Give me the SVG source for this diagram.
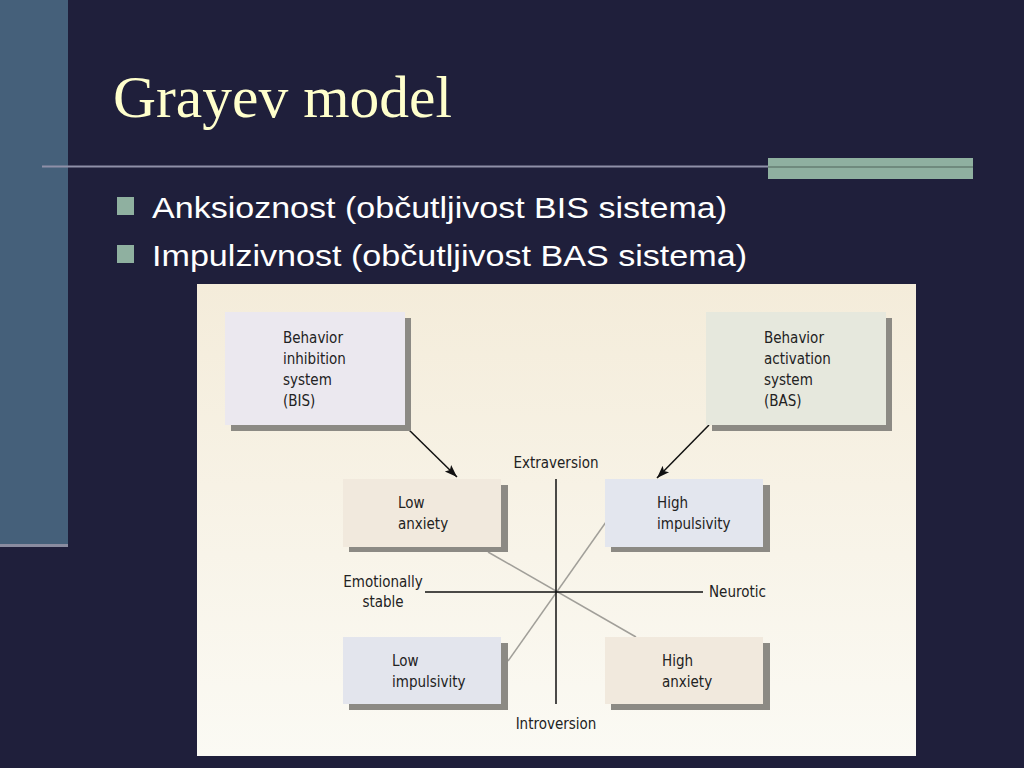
<svg xmlns="http://www.w3.org/2000/svg" width="1024" height="768" viewBox="0 0 1024 768">
<defs>
<linearGradient id="pg" x1="0" y1="0" x2="0" y2="1">
<stop offset="0" stop-color="#f4ecda"/>
<stop offset="1" stop-color="#fbfaf4"/>
</linearGradient>
<marker id="ah" viewBox="0 0 14 10" refX="14" refY="5" markerWidth="15" markerHeight="9" markerUnits="userSpaceOnUse" orient="auto">
<path d="M0,0 L14,5 L0,10 L3,5 Z" fill="#111"/>
</marker>
<style>
.t{font-family:"Liberation Sans Narrow","DejaVu Sans Condensed","Liberation Sans",sans-serif;font-size:15px;fill:#222}
.b{font-family:"Liberation Sans",Arial,sans-serif;font-size:30px;fill:#ffffff}
.sh{fill:#8c8a84}
.ax{stroke:#111;stroke-width:1.5;fill:none}
.dg{stroke:#a19f99;stroke-width:1.5;fill:none}
.ar{stroke:#111;stroke-width:1.5;fill:none}
</style>
</defs>
<rect width="1024" height="768" fill="#1f1f3b"/>
<rect x="0" y="0" width="68" height="545" fill="#45607a"/>
<rect x="0" y="544" width="68" height="3" fill="#8a8ca0"/>
<line x1="42" y1="166.5" x2="770" y2="166.5" stroke="#8f90a8" stroke-width="2"/>
<rect x="768" y="158" width="205" height="21" fill="#8fb0a0"/>
<line x1="768" y1="167" x2="973" y2="167" stroke="#6f8a7d" stroke-width="2"/>
<text x="113" y="117" font-family="'Liberation Serif','Times New Roman',serif" font-size="60" fill="#ffffcc" textLength="339" lengthAdjust="spacingAndGlyphs">Grayev model</text>
<rect x="117" y="197" width="17" height="18" fill="#8fb0a0"/>
<text class="b" x="152" y="218" textLength="575" lengthAdjust="spacingAndGlyphs">Anksioznost (občutljivost BIS sistema)</text>
<rect x="117" y="245" width="17" height="18" fill="#8fb0a0"/>
<text class="b" x="152" y="266" textLength="595" lengthAdjust="spacingAndGlyphs">Impulzivnost (občutljivost BAS sistema)</text>
<rect x="197" y="284" width="719" height="472" fill="url(#pg)"/>
<g id="connectors">
<line class="dg" x1="488" y1="552" x2="636" y2="637"/>
<line class="dg" x1="508" y1="661" x2="606" y2="522"/>
<line class="ax" x1="425" y1="592" x2="703" y2="592"/>
<line class="ax" x1="556" y1="479" x2="556" y2="704"/>
<line class="ar" x1="404" y1="425" x2="457" y2="477" marker-end="url(#ah)"/>
<line class="ar" x1="709" y1="425" x2="657" y2="478" marker-end="url(#ah)"/>
</g>
<g id="bis">
<rect class="sh" x="231" y="318" width="180" height="113"/>
<rect x="225" y="312" width="180" height="113" fill="#ebe8ef"/>
<text class="t" x="283" y="343">Behavior</text>
<text class="t" x="283" y="364">inhibition</text>
<text class="t" x="283" y="385">system</text>
<text class="t" x="283" y="406">(BIS)</text>
</g>
<g id="bas">
<rect class="sh" x="712" y="318" width="180" height="113"/>
<rect x="706" y="312" width="180" height="113" fill="#e6e8dd"/>
<text class="t" x="764" y="343">Behavior</text>
<text class="t" x="764" y="364">activation</text>
<text class="t" x="764" y="385">system</text>
<text class="t" x="764" y="406">(BAS)</text>
</g>
<g id="low-anxiety">
<rect class="sh" x="349" y="485" width="159" height="67"/>
<rect x="343" y="479" width="158" height="68" fill="#f1e9dd"/>
<text class="t" x="398" y="508">Low</text>
<text class="t" x="398" y="529">anxiety</text>
</g>
<g id="high-impulsivity">
<rect class="sh" x="611" y="485" width="159" height="67"/>
<rect x="605" y="479" width="158" height="68" fill="#e3e6ee"/>
<text class="t" x="657" y="508">High</text>
<text class="t" x="657" y="529">impulsivity</text>
</g>
<g id="low-impulsivity">
<rect class="sh" x="349" y="643" width="159" height="67"/>
<rect x="343" y="637" width="158" height="67" fill="#e3e5ed"/>
<text class="t" x="392" y="666">Low</text>
<text class="t" x="392" y="687">impulsivity</text>
</g>
<g id="high-anxiety">
<rect class="sh" x="611" y="643" width="159" height="67"/>
<rect x="605" y="637" width="158" height="67" fill="#f1e9dd"/>
<text class="t" x="662" y="666">High</text>
<text class="t" x="662" y="687">anxiety</text>
</g>
<g id="labels">
<text class="t" x="556" y="468" text-anchor="middle">Extraversion</text>
<text class="t" x="556" y="729" text-anchor="middle">Introversion</text>
<text class="t" x="383" y="587" text-anchor="middle">Emotionally</text>
<text class="t" x="383" y="607" text-anchor="middle">stable</text>
<text class="t" x="709" y="597">Neurotic</text>
</g>
</svg>
